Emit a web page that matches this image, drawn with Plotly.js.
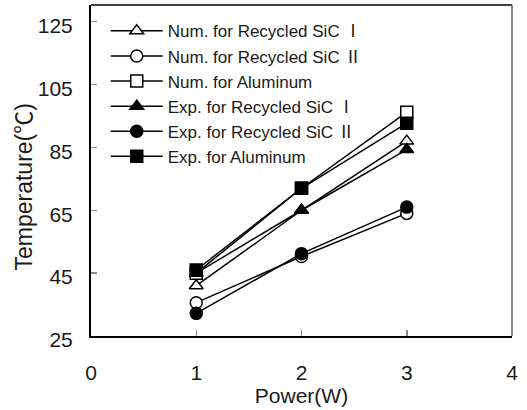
<!DOCTYPE html>
<html>
<head>
<meta charset="utf-8">
<script src="https://cdn.plot.ly/plotly-3.0.1.min.js"></script>
<style>html,body{margin:0;padding:0;background:#fff;}#chart{width:527px;height:410px;}</style>
</head>
<body>
<div id="chart"></div>
<script>
const power = [1, 2, 3];
const numSiC1 = [41, 65, 87];
const numSiC2 = [35.6, 50.3, 64];
const numAl = [45, 72, 96.2];
const expSiC1 = [45, 65, 84.3];
const expSiC2 = [32.2, 51.2, 66];
const expAl = [46, 72, 92.7];

const names = [
  'Num. for Recycled SiC \u2160',
  'Num. for Recycled SiC \u2161',
  'Num. for Aluminum',
  'Exp. for Recycled SiC \u2160',
  'Exp. for Recycled SiC \u2161',
  'Exp. for Aluminum'
];
const series = [numSiC1, numSiC2, numAl, expSiC1, expSiC2, expAl];
const symbols = ['triangle-up', 'circle', 'square', 'triangle-up', 'circle', 'square'];
const filled = [false, false, false, true, true, true];

const FONT = 'Liberation Sans, Arial, Noto Sans CJK KR, sans-serif';
const TXT = '#1a1a1a';

const traces = series.map((y, i) => ({
  x: power, y: y, name: names[i], type: 'scatter', mode: 'lines+markers',
  legendgroup: 'g' + i,
  line: {color: '#000', width: 1.5},
  marker: {symbol: symbols[i], size: 12,
           color: filled[i] ? '#000' : '#fff', line: {color: '#000', width: 1.5}}
}));

const layout = {
  width: 527, height: 410,
  margin: {l: 91, r: 15, t: 5, b: 74},
  paper_bgcolor: '#fff', plot_bgcolor: '#fff',
  font: {family: FONT, color: TXT},
  showlegend: true,
  legend: {x: 0.035, y: 0.975, xanchor: 'left', yanchor: 'top', bgcolor: 'rgba(0,0,0,0)',
           font: {size: 17, family: FONT, color: TXT}, itemwidth: 52, tracegroupgap: 0},
  xaxis: {range: [0, 4], tickvals: [0, 1, 2, 3, 4], showgrid: false, zeroline: false,
          showline: true, linecolor: '#000', linewidth: 2, ticks: 'inside', ticklen: 6,
          tickcolor: '#888', tickwidth: 1.5, ticklabelstandoff: 17,
          tickfont: {size: 21, family: FONT, color: TXT},
          title: {text: 'Power(W)', font: {size: 21, family: FONT, color: TXT}, standoff: 4}},
  yaxis: {range: [25, 130.3], tickvals: [25, 45, 65, 85, 105, 125], showgrid: false, zeroline: false,
          showline: true, linecolor: '#000', linewidth: 2, ticks: 'inside', ticklen: 6,
          tickcolor: '#888', tickwidth: 1.5, ticklabelstandoff: 12, ticklabelshift: 4,
          tickfont: {size: 21, family: FONT, color: TXT}},
  annotations: [
    {text: 'Temperature(\u2103)', xref: 'paper', yref: 'paper', x: -0.158, y: 0.45,
     xanchor: 'center', yanchor: 'middle', textangle: -90, showarrow: false,
     font: {size: 23, family: FONT, color: TXT}}
  ],
  shapes: [
    {type: 'line', xref: 'paper', yref: 'paper', x0: 0, x1: 1, y0: 1, y1: 1, line: {color: '#000', width: 1.5}},
    {type: 'line', xref: 'paper', yref: 'paper', x0: 1, x1: 1, y0: 0, y1: 1, line: {color: '#666', width: 1.5}}
  ]
};

Plotly.newPlot('chart', traces, layout, {displayModeBar: false, staticPlot: true});
</script>
</body>
</html>
